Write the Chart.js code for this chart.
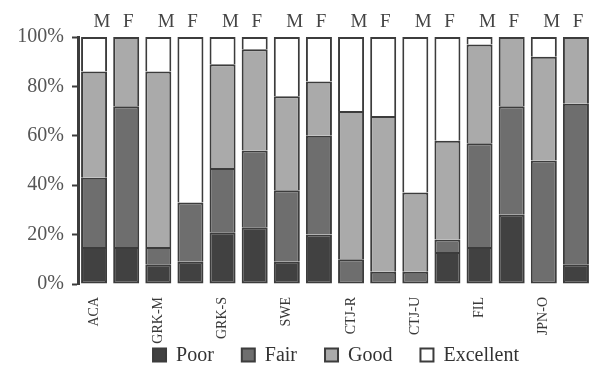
<!DOCTYPE html>
<html>
<head>
<meta charset="utf-8">
<script src="https://cdn.jsdelivr.net/npm/chart.js@4/dist/chart.umd.min.js"></script>
<style>
  html, body { margin: 0; padding: 0; background: #ffffff; }
  #wrap { width: 592px; height: 366px; }
</style>
</head>
<body>
<div id="wrap"><canvas id="c" width="592" height="366"></canvas></div>
<script>
// Groups, each with a male (M) and female (F) bar
const groups = ['ACA', 'GRK-M', 'GRK-S', 'SWE', 'CTJ-R', 'CTJ-U', 'FIL', 'JPN-O'];
const sexes = ['M', 'F'];

// Percentage of ratings per bar (M, F alternating within each group)
const poor      = [15, 15,  8,  9, 21, 23,  9, 20,  0,  0,  0, 13, 15, 28,  0,  8];
const fair      = [28, 57,  7, 24, 26, 31, 29, 40, 10,  5,  5,  5, 42, 44, 50, 65];
const good      = [43, 28, 71,  0, 42, 41, 38, 22, 60, 63, 32, 40, 40, 28, 42, 27];
const excellent = [14,  0, 14, 67, 11,  5, 24, 18, 30, 32, 63, 42,  3,  0,  8,  0];

const yTicks = [0, 20, 40, 60, 80, 100];

const barLabels = [];
groups.forEach(g => sexes.forEach(s => barLabels.push(g + ' ' + s)));

const SERIF = "'Liberation Serif', 'DejaVu Serif', serif";
const EDGE = '#3c3c3c';

// Only the lowest non-empty segment of a stack keeps its bottom edge,
// so segment boundaries stay a single line thick
function segmentBorder(c) {
  const i = c.dataIndex, d = c.datasetIndex;
  const below = c.chart.data.datasets.slice(0, d).some(ds => ds.data[i] > 0);
  return { top: 2, left: 2, right: 2, bottom: below ? 0 : 2 };
}

function series(label, data, color) {
  return {
    label, data,
    backgroundColor: color,
    borderColor: EDGE,
    borderWidth: segmentBorder,
    borderSkipped: false,
    barPercentage: 0.81,
    categoryPercentage: 1.0
  };
}

// Writes the M / F marker above each bar
const sexMarkers = {
  id: 'sexMarkers',
  afterDraw(chart) {
    const { ctx, scales: { x } } = chart;
    ctx.save();
    ctx.font = '19px ' + SERIF;
    ctx.fillStyle = '#444444';
    ctx.textAlign = 'center';
    ctx.textBaseline = 'middle';
    barLabels.forEach((lab, i) => {
      const s = sexes[i % 2];
      const px = x.getPixelForValue(i) + (s === 'M' ? 8 : 2);
      ctx.fillText(s, px, 22);
    });
    ctx.restore();
  }
};

// Single-row legend under the category labels
const bottomLegend = {
  id: 'bottomLegend',
  afterDraw(chart) {
    const { ctx, chartArea } = chart;
    const box = 13, gap = 10, itemGap = 28, cy = 355;
    ctx.save();
    ctx.font = '20px ' + SERIF;
    ctx.textBaseline = 'middle';
    ctx.textAlign = 'left';
    const items = chart.data.datasets.map(d => ({
      text: d.label, fill: d.backgroundColor, w: ctx.measureText(d.label).width
    }));
    const total = items.reduce((a, it) => a + box + gap + it.w, 0) + itemGap * (items.length - 1);
    let x = (chartArea.left + chartArea.right) / 2 - total / 2 + 1;
    items.forEach(it => {
      ctx.fillStyle = it.fill;
      ctx.fillRect(x, cy - box / 2, box, box);
      ctx.lineWidth = 2;
      ctx.strokeStyle = EDGE;
      ctx.strokeRect(x, cy - box / 2, box, box);
      ctx.fillStyle = '#333333';
      ctx.fillText(it.text, x + box + gap, cy + 1);
      x += box + gap + it.w + itemGap;
    });
    ctx.restore();
  }
};

new Chart(document.getElementById('c'), {
  type: 'bar',
  data: {
    labels: barLabels,
    datasets: [
      series('Poor', poor, '#414141'),
      series('Fair', fair, '#6e6e6e'),
      series('Good', good, '#aaaaaa'),
      series('Excellent', excellent, '#ffffff')
    ]
  },
  options: {
    responsive: false,
    animation: false,
    devicePixelRatio: 1,
    layout: { padding: { top: 37, right: 0, left: 0, bottom: 0 } },
    plugins: {
      tooltip: { enabled: false },
      legend: { display: false }
    },
    scales: {
      x: {
        stacked: true,
        grid: { display: false, drawTicks: false },
        border: { display: false },
        ticks: {
          autoSkip: false,
          minRotation: 90,
          maxRotation: 90,
          padding: 13,
          font: { family: SERIF, size: 14 },
          color: '#3a3a3a',
          callback: (v, i) => (i % 2 === 0 ? groups[i / 2] : '')
        },
        afterFit: s => {
          s.height = 82;
          s.paddingLeft = 0;
          s.paddingRight = 0;
        }
      },
      y: {
        stacked: true,
        min: 0,
        max: 100,
        afterBuildTicks: s => { s.ticks = yTicks.map(v => ({ value: v })); },
        grid: {
          drawOnChartArea: false,
          drawTicks: true,
          tickLength: 6,
          tickWidth: 2,
          color: EDGE
        },
        border: { display: true, color: EDGE, width: 3 },
        ticks: {
          padding: 8,
          font: { family: SERIF, size: 20 },
          color: '#555555',
          callback: v => v + '%'
        },
        afterFit: s => { s.width = 78; }
      }
    }
  },
  plugins: [sexMarkers, bottomLegend]
});
</script>
</body>
</html>
